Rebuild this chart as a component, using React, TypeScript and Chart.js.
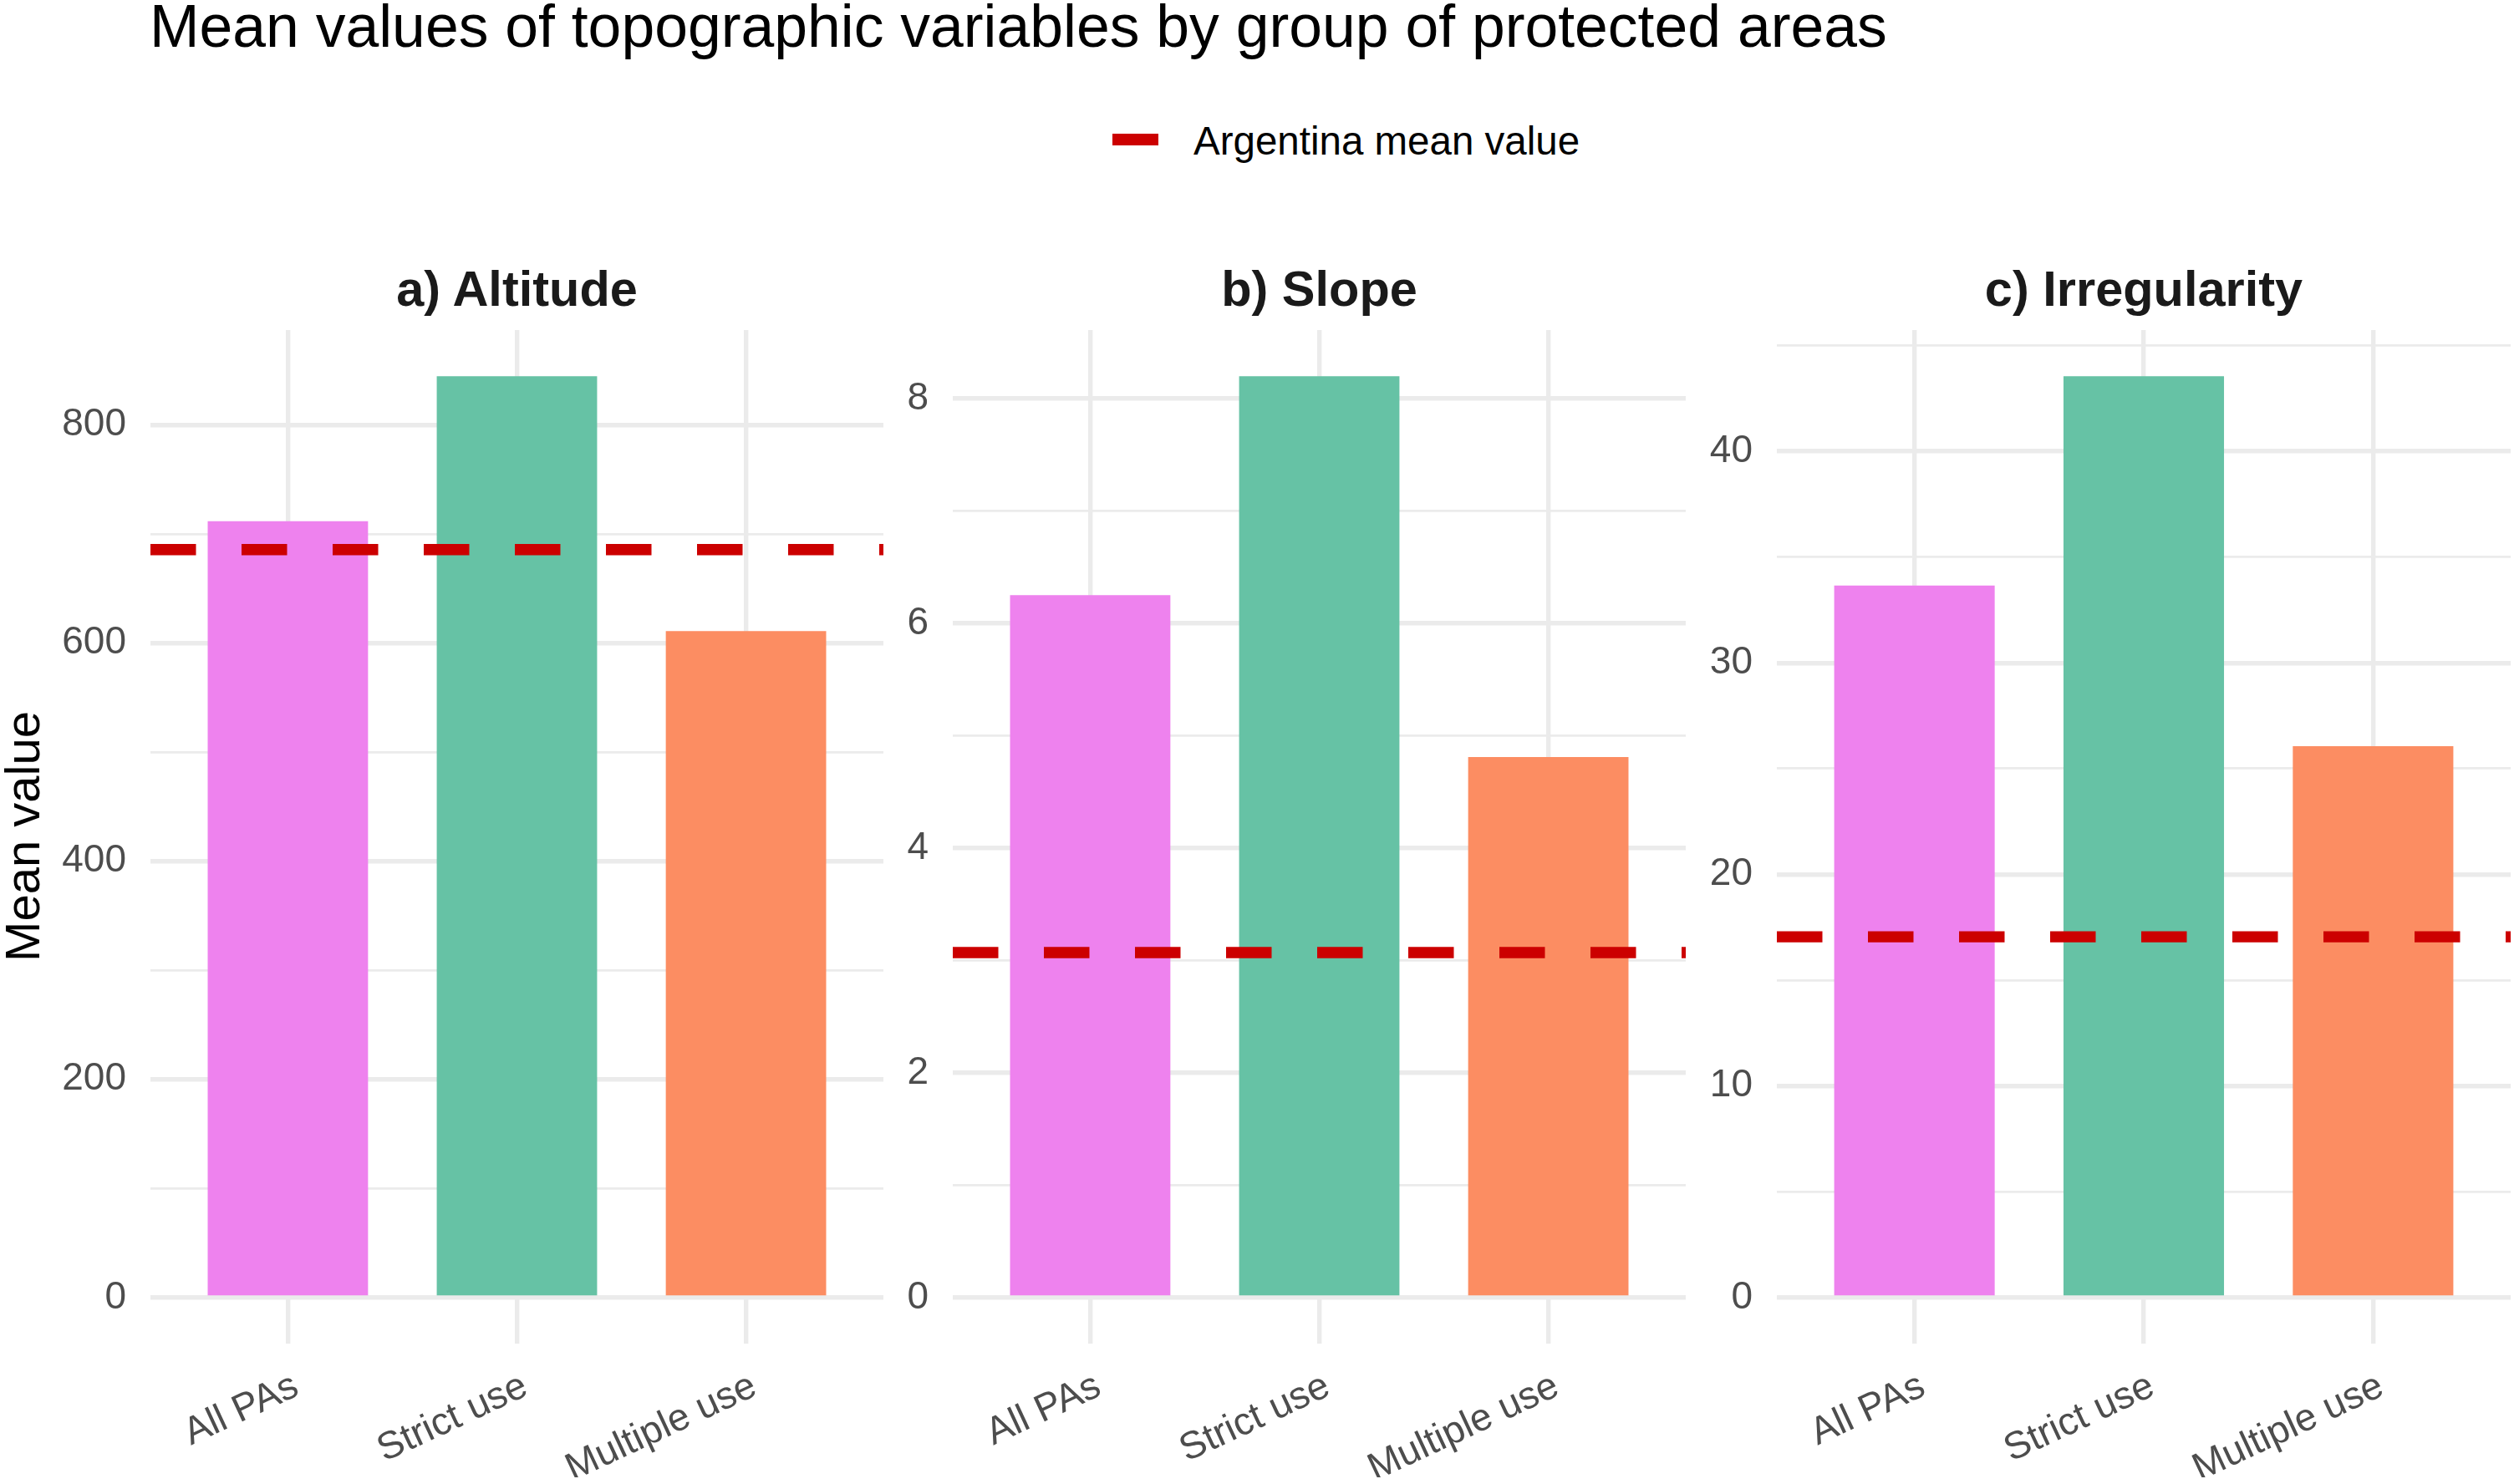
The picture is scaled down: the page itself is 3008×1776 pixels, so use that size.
import React, { useEffect, useRef } from "react";
import { Chart, registerables } from "chart.js";

Chart.register(...registerables);

// ---------- data ----------
const categories = ["All PAs", "Strict use", "Multiple use"];
const barColors = ["#EE82EE", "#66C2A5", "#FC8D62"];

const altitudeValues = [711.7, 844.7, 611.0];
const slopeValues = [6.25, 8.2, 4.81];
const irregularityValues = [33.65, 43.55, 26.06];

const altitudeMean = 685.7;
const slopeMean = 3.07;
const irregularityMean = 17.05;

const altitudeMajorTicks = [0, 200, 400, 600, 800];
const altitudeMinorTicks = [100, 300, 500, 700];
const slopeMajorTicks = [0, 2, 4, 6, 8];
const slopeMinorTicks = [1, 3, 5, 7];
const irregularityMajorTicks = [0, 10, 20, 30, 40];
const irregularityMinorTicks = [5, 15, 25, 35, 45];

const panelTitles = ["a) Altitude", "b) Slope", "c) Irregularity"];
const chartTitle = "Mean values of topographic variables by group of protected areas";
const legendLabel = "Argentina mean value";
const yAxisTitle = "Mean value";

// ---------- layout ----------
const FONT = "'Liberation Sans', Arial, Helvetica, sans-serif";
const PANEL_TOP = 395;
const PANEL_BOTTOM = 1608;
const PAD_TOP = 64;
const PAD_R = 3;
const X_H = 160;
const MEAN_COLOR = "#CC0000";
const GRID_COLOR = "#EBEBEB";
const TICK_COLOR = "#4D4D4D";

type PanelProps = {
  values: number[];
  mean: number;
  major: number[];
  minor: number[];
  left: number;
  right: number;
  yWidth: number;
};

function Panel({ values, mean, major, minor, left, right, yWidth }: PanelProps) {
  const ref = useRef<HTMLCanvasElement>(null);
  const width = yWidth + (right - left) + PAD_R;
  const height = PAD_TOP + (PANEL_BOTTOM - PANEL_TOP) + X_H;

  useEffect(() => {
    if (!ref.current) return;
    const top = Math.max(...values, mean);
    const n = categories.length;
    const chart = new Chart(ref.current, {
      type: "bar",
      data: {
        datasets: [
          {
            type: "line",
            data: [
              { x: 0.4, y: mean },
              { x: n + 0.6, y: mean },
            ],
            borderColor: MEAN_COLOR,
            borderWidth: 13.4,
            borderDash: [54.5, 54.5],
            borderCapStyle: "butt",
            pointRadius: 0,
            fill: false,
            tension: 0,
            order: 0,
          } as any,
          {
            type: "bar",
            data: values.map((v, i) => ({ x: i + 1, y: v })),
            backgroundColor: barColors,
            borderWidth: 0,
            barPercentage: 0.7,
            categoryPercentage: 1,
            order: 1,
          } as any,
        ],
      },
      options: {
        responsive: false,
        animation: false,
        devicePixelRatio: 1,
        events: [],
        layout: { padding: { top: PAD_TOP, right: PAD_R, left: 0, bottom: 0 } },
        plugins: {
          legend: { display: false },
          tooltip: { enabled: false },
          title: { display: false },
        },
        scales: {
          x: {
            type: "linear",
            min: 0.4,
            max: n + 0.6,
            offset: false,
            afterBuildTicks: (s: any) => {
              s.ticks = categories.map((_, i) => ({ value: i + 1 }));
            },
            afterFit: (s: any) => {
              s.height = X_H;
            },
            grid: { color: GRID_COLOR, lineWidth: 5.4, drawTicks: false, offset: false },
            border: { display: false },
            ticks: {
              autoSkip: false,
              minRotation: 25,
              maxRotation: 25,
              padding: 24,
              labelOffset: 10,
              color: TICK_COLOR,
              font: { family: FONT, size: 46 },
              callback: (v: any) => categories[Math.round(Number(v)) - 1] ?? "",
            },
          },
          y: {
            type: "linear",
            min: -0.05 * top,
            max: 1.05 * top,
            afterBuildTicks: (s: any) => {
              s.ticks = [...major, ...minor].sort((a, b) => a - b).map((v) => ({ value: v }));
            },
            afterFit: (s: any) => {
              s.width = yWidth;
            },
            grid: {
              color: GRID_COLOR,
              lineWidth: (ctx: any) => (major.includes(ctx.tick?.value) ? 5.4 : 2.7),
              drawTicks: false,
            },
            border: { display: false },
            ticks: {
              autoSkip: false,
              padding: 29,
              color: TICK_COLOR,
              font: { family: FONT, size: 46 },
              callback: (v: any) => (major.includes(Number(v)) ? String(v) : ""),
            },
          },
        },
      } as any,
    });
    return () => chart.destroy();
  }, []);

  return (
    <canvas
      ref={ref}
      width={width}
      height={height}
      style={{
        position: "absolute",
        left: left - yWidth,
        top: PANEL_TOP - PAD_TOP,
        width,
        height,
      }}
    />
  );
}

const panels = [
  { values: altitudeValues, mean: altitudeMean, major: altitudeMajorTicks, minor: altitudeMinorTicks, left: 180, right: 1057, yWidth: 170 },
  { values: slopeValues, mean: slopeMean, major: slopeMajorTicks, minor: slopeMinorTicks, left: 1140, right: 2017, yWidth: 80 },
  { values: irregularityValues, mean: irregularityMean, major: irregularityMajorTicks, minor: irregularityMinorTicks, left: 2126, right: 3004, yWidth: 90 },
];

export default function App() {
  return (
    <div
      style={{
        position: "fixed",
        left: 0,
        top: 0,
        width: 3008,
        height: 1776,
        background: "#ffffff",
        overflow: "hidden",
        fontFamily: FONT,
      }}
    >
      <div
        style={{
          position: "absolute",
          left: 179,
          top: -3.8,
          fontSize: 71.5,
          lineHeight: 1,
          color: "#000000",
          whiteSpace: "nowrap",
        }}
      >
        {chartTitle}
      </div>

      <div
        style={{
          position: "absolute",
          left: 1331,
          top: 160,
          width: 55,
          height: 14,
          background: MEAN_COLOR,
        }}
      />
      <div
        style={{
          position: "absolute",
          left: 1428,
          top: 144.8,
          fontSize: 47.5,
          lineHeight: 1,
          color: "#000000",
          whiteSpace: "nowrap",
        }}
      >
        {legendLabel}
      </div>

      <div
        style={{
          position: "absolute",
          left: 27,
          top: 1001,
          transform: "translate(-50%, -50%) rotate(-90deg)",
          fontSize: 58,
          lineHeight: 1,
          color: "#000000",
          whiteSpace: "nowrap",
        }}
      >
        {yAxisTitle}
      </div>

      {panels.map((p, i) => (
        <div
          key={"t" + i}
          style={{
            position: "absolute",
            left: (p.left + p.right) / 2 - 400,
            width: 800,
            top: 316.3,
            textAlign: "center",
            fontSize: 59.5,
            fontWeight: "bold",
            lineHeight: 1,
            color: "#1A1A1A",
            whiteSpace: "nowrap",
          }}
        >
          {panelTitles[i]}
        </div>
      ))}

      {panels.map((p, i) => (
        <Panel key={"p" + i} {...p} />
      ))}
    </div>
  );
}
